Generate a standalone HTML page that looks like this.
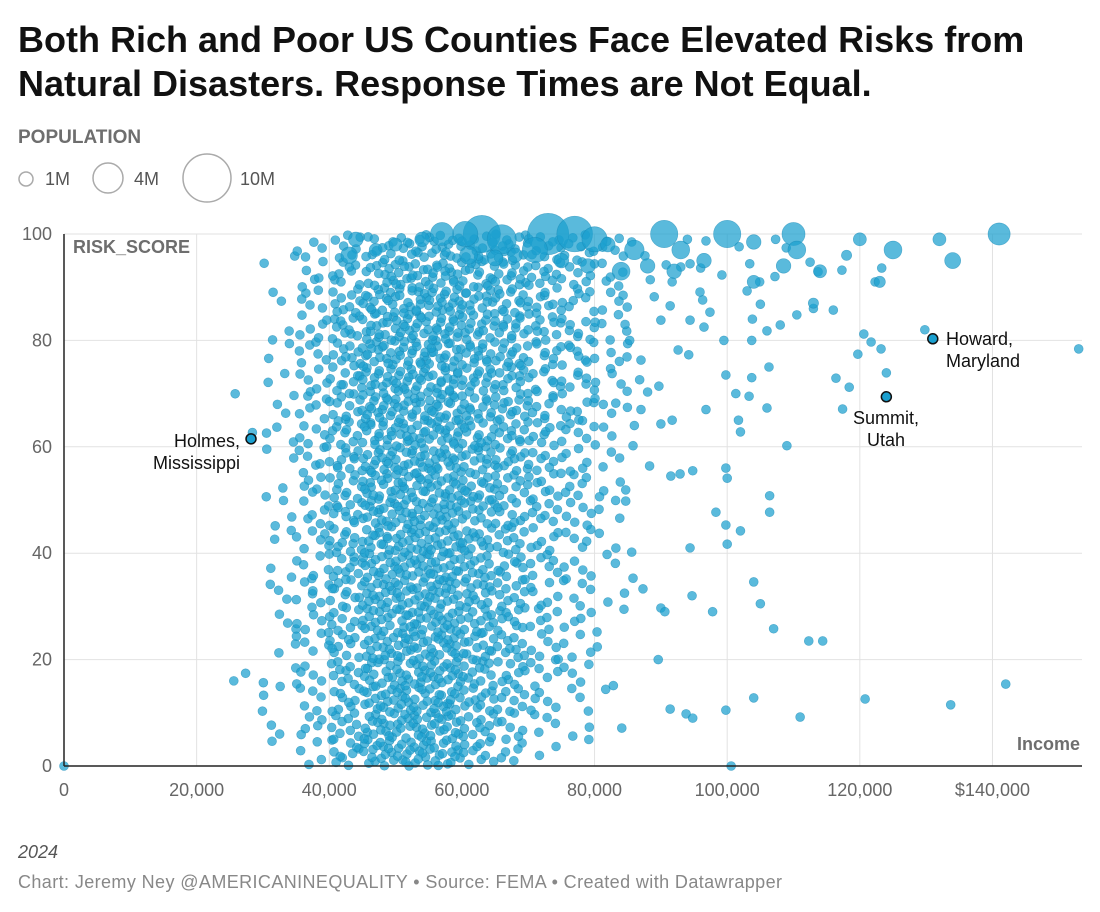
<!DOCTYPE html>
<html><head><meta charset="utf-8">
<style>
body{margin:0;background:#fff;font-family:"Liberation Sans",Arial,sans-serif;}
svg{display:block}
</style></head>
<body>
<svg id="chart" width="1100" height="912">
  <text x="18" y="52" font-size="36" font-weight="bold" fill="#111">Both Rich and Poor US Counties Face Elevated Risks from</text>
  <text x="18" y="96" font-size="36" font-weight="bold" fill="#111">Natural Disasters. Response Times are Not Equal.</text>
  <text x="18" y="143" font-size="19" font-weight="bold" fill="#6e6e6e">POPULATION</text>
  <g>
    <circle cx="26" cy="179" r="7" fill="none" stroke="#aaa" stroke-width="1.5"/>
    <text x="45" y="185" font-size="18" fill="#555">1M</text>
    <circle cx="108" cy="178" r="15" fill="none" stroke="#aaa" stroke-width="1.5"/>
    <text x="134" y="185" font-size="18" fill="#555">4M</text>
    <circle cx="207" cy="178" r="24" fill="none" stroke="#aaa" stroke-width="1.5"/>
    <text x="240" y="185" font-size="18" fill="#555">10M</text>
  </g>
  <g id="grid"></g>
  <g id="dots"></g>
  <g id="axes"></g>
  <text x="18" y="858" font-size="18" font-style="italic" fill="#555">2024</text>
  <text x="18" y="888" font-size="18" fill="#888" letter-spacing="0.4">Chart: Jeremy Ney @AMERICANINEQUALITY • Source: FEMA • Created with Datawrapper</text>
</svg>
<script>
const xTicks=[0,20000,40000,60000,80000,100000,120000,140000];
const xTickLabels=["0","20,000","40,000","60,000","80,000","100,000","120,000","$140,000"];
const yTicks=[0,20,40,60,80,100];
// density counts: rows = income bins (start, 5k wide), cols = risk bins 0-5 ... 95-100
const binIncomes=[25000,30000,35000,40000,45000,50000,55000,60000,65000,70000,75000,80000];
const binCounts=[
[0,0,1,1,0,0,0,0,0,0,0,0,1,1,0,0,0,0,0,0],
[1,2,2,2,2,3,3,2,2,3,2,2,3,3,2,2,2,2,1,1],
[4,5,5,5,5,6,6,6,6,6,6,6,6,6,6,6,6,5,5,4],
[10,10,9,10,10,10,11,11,11,11,11,11,11,11,11,11,11,10,9,7],
[17,16,15,15,15,15,16,16,16,16,16,16,16,16,16,16,16,16,13,10],
[18,17,17,17,17,17,17,17,17,17,17,17,17,17,17,17,17,17,15,12],
[16,16,17,17,17,17,17,17,17,17,17,17,17,17,17,17,17,17,16,14],
[10,11,12,13,13,13,13,13,13,13,14,14,14,14,14,14,14,14,14,13],
[5,7,8,9,10,10,10,10,10,10,11,12,12,12,12,13,13,13,13,13],
[2,4,5,6,6,6,6,7,7,8,8,8,9,9,9,9,10,10,10,10],
[1,2,3,4,4,4,5,5,5,6,6,6,7,7,7,8,8,8,8,8],
[0,1,1,1,1,2,2,2,2,3,3,3,3,4,4,4,5,5,5,5]];
const sparseIncome=[153000,142000,133700,120800,114400,112300,111000,107000,105000,104000,100600,99800,104000,93800,94800,91400,89600,90000,90600,94700,97800,100000,99800,98300,94400,87300,85800,85600,106400,106400,102000,94800,91500,84700,84700,88300,92900,99800,100000,109000,102000,101700,96800,106000,103300,101300,99800,103700,106300,116400,118400,117400,124000,120600,121700,123200,129800,119700,116000,110500,108000,106000,103700,103800,99500,105000,92600,94200,96500,97400,96300,91400,94400,113000,103000,104900,95900,89000,90000,87000,88000,87000,86000,85800,90000,91700,89700,86800,84000,85300,84600,84900,83200,25600,0,113700,117300,122300,123300,107200,108900,112500,103400,99200,101800,107300,94000,96800,96000,93000,94400,90800,87600,85600,88400,91700];
const sparseRisk=[78.4,15.4,11.5,12.6,23.5,23.5,9.2,25.8,30.5,34.6,0,10.5,12.8,9.8,9,10.7,20,29.7,29,32,29,41.7,45.3,47.7,41,33.3,35.3,40.2,50.8,47.7,44.2,55.5,54.5,51.9,49.8,56.4,54.9,56,54.1,60.2,62.8,65,67,67.3,69.5,70,73.5,73,75,72.9,71.2,67.1,73.9,81.2,79.7,78.4,82,77.4,85.7,84.8,82.9,81.8,80,84,80,86.8,78.2,77.3,82.5,85.3,87.6,86.5,83.8,86,89.3,91,89.1,88.2,83.8,76.3,70.3,67,64,60.2,64.3,65,71.4,72.6,71.8,80,83,76.9,68.2,16,0,92.9,93.2,91,93.6,92,97.4,94.7,94.4,92.3,97.6,99,99,98.7,93.6,93.8,94.4,94.2,95.9,98.5,91.4,91];
const bigIncome=[63000,66000,60500,73000,77000,80000,71000,90500,100000,110000,141000,57000,44000,86000,84000,93000,110500,108500,125000,134000,132000,120000,114000,104000,96500,88000,68000,75000,79000,54000,50000,47000,43000,61000,65000,92000,82000,104000,118000,123000,113000];
const bigRisk=[100,99,100,100,100,99,97,100,100,100,100,100,99,97,93,97,97,94,97,95,99,99,93,98.5,95,94,96,95,94,99,98,97,96,96,95.5,93,98,91,96,91,87];
const bigPop=[6.5,4,3,8,6,3,3,3.5,3.5,2.5,2.3,2.5,1,1.8,1.5,1.5,1.5,1,1.5,1.2,0.8,0.8,0.8,1,1,1,1,1,1,1,0.8,0.8,1.3,1.5,1.2,1,1,0.8,0.5,0.6,0.5];
const labeledNames=["Holmes, Mississippi","Summit, Utah","Howard, Maryland"];
const labeledIncome=[28200,124000,131000];
const labeledRisk=[61.5,69.4,80.3];
const labeledPop=[0.05,0.05,0.33];

const NS="http://www.w3.org/2000/svg";
const X0=64,X1=1082,XMAX=153500,Y0=766,Y1=234;
const xs=v=>X0+(v/XMAX)*(X1-X0);
const ys=v=>Y0-(v/100)*(Y0-Y1);
const rs=p=>Math.max(4.5,7.3*Math.sqrt(p));
function halton(n,b){let f=1,r=0;while(n>0){f/=b;r+=f*(n%b);n=Math.floor(n/b);}return r;}
function mk(tag,attrs,parent){const e=document.createElementNS(NS,tag);for(const k in attrs)e.setAttribute(k,attrs[k]);parent.appendChild(e);return e;}
const grid=document.getElementById('grid'),dots=document.getElementById('dots'),axes=document.getElementById('axes');
yTicks.forEach(t=>{
  const l=mk('line',{x1:X0,x2:X1,y1:ys(t),y2:ys(t),stroke:'#e2e2e2','stroke-width':1},grid);
  
  
  const tx=mk('text',{x:52,y:ys(t)+6,'text-anchor':'end','font-size':18,fill:'#666'},axes);
  tx.textContent=t;
  
  
});
xTicks.forEach((t,i)=>{
  if(t>0){const l=mk('line',{x1:xs(t),x2:xs(t),y1:Y1,y2:Y0,stroke:'#e2e2e2','stroke-width':1},grid);
  
  }
  const tx=mk('text',{x:xs(t),y:796,'text-anchor':'middle','font-size':18,fill:'#666'},axes);
  tx.textContent=xTickLabels[i];
  
  
});
function dot(inc,risk,r,name){
  const c=mk('circle',{cx:xs(inc),cy:ys(risk),r:r,fill:'#1a9fcf','fill-opacity':0.72,stroke:'#1789b5','stroke-opacity':0.6,'stroke-width':0.6},dots);
  
  
}
binIncomes.forEach((bi,i)=>{
  binCounts[i].forEach((n,j)=>{
    const base=1+i*97+j*31;
    for(let k=0;k<n;k++){
      const fx=halton(base+k,2);
      const fy=halton(base+k,3);
      dot(bi+fx*5000,j*5+fy*5,4.5,'county-point');
    }
  });
});
sparseIncome.forEach((v,i)=>dot(v,sparseRisk[i],4.5,'county-point'));
bigIncome.forEach((v,i)=>dot(v,bigRisk[i],rs(bigPop[i]),'county-bubble'));
const ax=mk('line',{x1:X0,x2:X1,y1:Y0,y2:Y0,stroke:'#222','stroke-width':1.5},axes);


const ay=mk('line',{x1:X0,x2:X0,y1:Y1,y2:Y0,stroke:'#222','stroke-width':1.5},axes);


const yt=mk('text',{x:73,y:253,'font-size':18,'font-weight':'bold',fill:'#6e6e6e'},axes);
yt.textContent='RISK_SCORE';


const xt=mk('text',{x:1080,y:750,'text-anchor':'end','font-size':18,'font-weight':'bold',fill:'#6e6e6e'},axes);
xt.textContent='Income';


const lblPos=[[240,447,'end',['Holmes,','Mississippi']],[886,424,'middle',['Summit,','Utah']],[946,345,'start',['Howard,','Maryland']]];
labeledNames.forEach((nm,i)=>{
  const c=mk('circle',{cx:xs(labeledIncome[i]),cy:ys(labeledRisk[i]),r:rs(labeledPop[i])+0.5,fill:'#1a9fcf',stroke:'#111','stroke-width':1.5},axes);
  
  
  const p=lblPos[i];
  p[3].forEach((line,k)=>{
    const t=mk('text',{x:p[0],y:p[1]+k*22,'text-anchor':p[2],'font-size':18,fill:'#111'},axes);
    t.textContent=line;
    
    
  });
});
</script>
</body></html>
